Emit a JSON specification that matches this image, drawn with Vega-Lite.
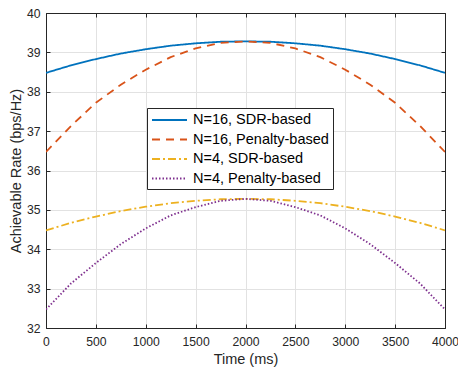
{
  "$schema": "https://vega.github.io/schema/vega-lite/v6.json",
  "width": 399,
  "height": 315,
  "autosize": {"type": "none"},
  "padding": {"left": 46, "top": 13, "right": 13, "bottom": 40},
  "background": "white",
  "config": {
    "view": {"stroke": "#262626", "strokeWidth": 1},
    "font": "Liberation Sans",
    "axis": {
      "domainColor": "#262626",
      "domainWidth": 1,
      "gridColor": "#e2e2e2",
      "gridWidth": 1,
      "tickColor": "#262626",
      "tickSize": -4,
      "labelFontSize": 12.2,
      "labelColor": "#262626",
      "labelFont": "Liberation Sans",
      "labelFlush": false,
      "labelOverlap": false,
      "titleFont": "Liberation Sans",
      "titleFontSize": 14.5,
      "titleFontWeight": "normal",
      "titleColor": "#262626"
    }
  },
  "data": {
    "values": [
      {"t": 0, "rate": 38.48, "s": "N=16, SDR-based"},
      {"t": 250, "rate": 38.67, "s": "N=16, SDR-based"},
      {"t": 500, "rate": 38.83, "s": "N=16, SDR-based"},
      {"t": 750, "rate": 38.97, "s": "N=16, SDR-based"},
      {"t": 1000, "rate": 39.08, "s": "N=16, SDR-based"},
      {"t": 1250, "rate": 39.17, "s": "N=16, SDR-based"},
      {"t": 1500, "rate": 39.23, "s": "N=16, SDR-based"},
      {"t": 1750, "rate": 39.27, "s": "N=16, SDR-based"},
      {"t": 2000, "rate": 39.28, "s": "N=16, SDR-based"},
      {"t": 2250, "rate": 39.27, "s": "N=16, SDR-based"},
      {"t": 2500, "rate": 39.23, "s": "N=16, SDR-based"},
      {"t": 2750, "rate": 39.17, "s": "N=16, SDR-based"},
      {"t": 3000, "rate": 39.08, "s": "N=16, SDR-based"},
      {"t": 3250, "rate": 38.97, "s": "N=16, SDR-based"},
      {"t": 3500, "rate": 38.83, "s": "N=16, SDR-based"},
      {"t": 3750, "rate": 38.67, "s": "N=16, SDR-based"},
      {"t": 4000, "rate": 38.48, "s": "N=16, SDR-based"},
      {"t": 0, "rate": 36.47, "s": "N=16, Penalty-based"},
      {"t": 250, "rate": 37.13, "s": "N=16, Penalty-based"},
      {"t": 500, "rate": 37.72, "s": "N=16, Penalty-based"},
      {"t": 750, "rate": 38.18, "s": "N=16, Penalty-based"},
      {"t": 1000, "rate": 38.56, "s": "N=16, Penalty-based"},
      {"t": 1250, "rate": 38.88, "s": "N=16, Penalty-based"},
      {"t": 1500, "rate": 39.1, "s": "N=16, Penalty-based"},
      {"t": 1750, "rate": 39.24, "s": "N=16, Penalty-based"},
      {"t": 2000, "rate": 39.28, "s": "N=16, Penalty-based"},
      {"t": 2250, "rate": 39.24, "s": "N=16, Penalty-based"},
      {"t": 2500, "rate": 39.1, "s": "N=16, Penalty-based"},
      {"t": 2750, "rate": 38.88, "s": "N=16, Penalty-based"},
      {"t": 3000, "rate": 38.56, "s": "N=16, Penalty-based"},
      {"t": 3250, "rate": 38.18, "s": "N=16, Penalty-based"},
      {"t": 3500, "rate": 37.72, "s": "N=16, Penalty-based"},
      {"t": 3750, "rate": 37.13, "s": "N=16, Penalty-based"},
      {"t": 4000, "rate": 36.47, "s": "N=16, Penalty-based"},
      {"t": 0, "rate": 34.48, "s": "N=4, SDR-based"},
      {"t": 250, "rate": 34.67, "s": "N=4, SDR-based"},
      {"t": 500, "rate": 34.83, "s": "N=4, SDR-based"},
      {"t": 750, "rate": 34.97, "s": "N=4, SDR-based"},
      {"t": 1000, "rate": 35.08, "s": "N=4, SDR-based"},
      {"t": 1250, "rate": 35.17, "s": "N=4, SDR-based"},
      {"t": 1500, "rate": 35.23, "s": "N=4, SDR-based"},
      {"t": 1750, "rate": 35.27, "s": "N=4, SDR-based"},
      {"t": 2000, "rate": 35.28, "s": "N=4, SDR-based"},
      {"t": 2250, "rate": 35.27, "s": "N=4, SDR-based"},
      {"t": 2500, "rate": 35.23, "s": "N=4, SDR-based"},
      {"t": 2750, "rate": 35.17, "s": "N=4, SDR-based"},
      {"t": 3000, "rate": 35.08, "s": "N=4, SDR-based"},
      {"t": 3250, "rate": 34.97, "s": "N=4, SDR-based"},
      {"t": 3500, "rate": 34.83, "s": "N=4, SDR-based"},
      {"t": 3750, "rate": 34.67, "s": "N=4, SDR-based"},
      {"t": 4000, "rate": 34.48, "s": "N=4, SDR-based"},
      {"t": 0, "rate": 32.47, "s": "N=4, Penalty-based"},
      {"t": 250, "rate": 33.13, "s": "N=4, Penalty-based"},
      {"t": 500, "rate": 33.65, "s": "N=4, Penalty-based"},
      {"t": 750, "rate": 34.13, "s": "N=4, Penalty-based"},
      {"t": 1000, "rate": 34.53, "s": "N=4, Penalty-based"},
      {"t": 1250, "rate": 34.86, "s": "N=4, Penalty-based"},
      {"t": 1500, "rate": 35.07, "s": "N=4, Penalty-based"},
      {"t": 1750, "rate": 35.23, "s": "N=4, Penalty-based"},
      {"t": 2000, "rate": 35.28, "s": "N=4, Penalty-based"},
      {"t": 2250, "rate": 35.23, "s": "N=4, Penalty-based"},
      {"t": 2500, "rate": 35.07, "s": "N=4, Penalty-based"},
      {"t": 2750, "rate": 34.86, "s": "N=4, Penalty-based"},
      {"t": 3000, "rate": 34.53, "s": "N=4, Penalty-based"},
      {"t": 3250, "rate": 34.13, "s": "N=4, Penalty-based"},
      {"t": 3500, "rate": 33.65, "s": "N=4, Penalty-based"},
      {"t": 3750, "rate": 33.13, "s": "N=4, Penalty-based"},
      {"t": 4000, "rate": 32.47, "s": "N=4, Penalty-based"}
    ]
  },
  "layer": [
    {
      "mark": {"type": "line", "strokeWidth": 1.8, "clip": true},
      "encoding": {
        "x": {
          "field": "t", "type": "quantitative",
          "scale": {"domain": [0, 4000], "nice": false},
          "axis": {"orient": "bottom", "title": "Time (ms)", "format": "d", "values": [0, 500, 1000, 1500, 2000, 2500, 3000, 3500, 4000], "labelPadding": 11.5, "titlePadding": 5}
        },
        "y": {
          "field": "rate", "type": "quantitative",
          "scale": {"domain": [32, 40], "nice": false, "zero": false},
          "axis": {"orient": "left", "title": "Achievable Rate (bps/Hz)", "values": [32, 33, 34, 35, 36, 37, 38, 39, 40], "labelPadding": 10, "titlePadding": 3}
        },
        "color": {
          "field": "s", "type": "nominal",
          "scale": {"domain": ["N=16, SDR-based", "N=16, Penalty-based", "N=4, SDR-based", "N=4, Penalty-based"], "range": ["#0072BD", "#D95319", "#EDB120", "#7E2F8E"]},
          "legend": {"orient": "none", "legendX": 101, "legendY": 95, "title": null, "fillColor": "white", "strokeColor": "#262626", "padding": 4, "labelFontSize": 14.5, "labelFont": "Liberation Sans", "labelColor": "black", "symbolType": "M-2.5,0H2.5", "symbolSize": 196, "symbolStrokeWidth": 1.8, "symbolOffset": 10.5, "labelOffset": 15.5, "rowPadding": 4.5}
        },
        "strokeDash": {
          "field": "s", "type": "nominal",
          "scale": {"domain": ["N=16, SDR-based", "N=16, Penalty-based", "N=4, SDR-based", "N=4, Penalty-based"], "range": [[1, 0], [8, 6], [8, 3, 2, 3], [1.5, 2]]},
          "legend": {"orient": "none", "legendX": 101, "legendY": 95, "title": null, "fillColor": "white", "strokeColor": "#262626", "padding": 4, "labelFontSize": 14.5, "labelFont": "Liberation Sans", "labelColor": "black", "symbolType": "M-2.5,0H2.5", "symbolSize": 196, "symbolStrokeWidth": 1.8, "symbolOffset": 10.5, "labelOffset": 15.5, "rowPadding": 4.5}
        }
      }
    },
    {
      "mark": {"type": "line", "opacity": 0},
      "encoding": {
        "x": {
          "field": "t", "type": "quantitative",
          "axis": {"orient": "top", "title": null, "labels": false, "grid": false, "values": [0, 500, 1000, 1500, 2000, 2500, 3000, 3500, 4000]}
        },
        "y": {
          "field": "rate", "type": "quantitative",
          "axis": {"orient": "right", "title": null, "labels": false, "grid": false, "values": [32, 33, 34, 35, 36, 37, 38, 39, 40]}
        }
      }
    }
  ]
}
